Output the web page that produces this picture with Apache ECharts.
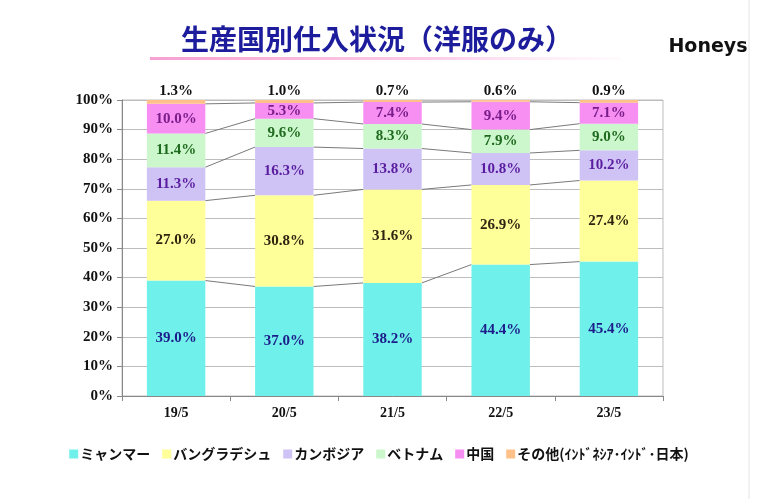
<!DOCTYPE html>
<html>
<head>
<meta charset="utf-8">
<script src="https://cdn.jsdelivr.net/npm/echarts@6/dist/echarts.min.js"></script>
<style>
html,body{margin:0;padding:0;background:#fff;}
#c{width:758px;height:499px;}
</style>
</head>
<body>
<div id="c"></div>
<script>
var categories = ['19/5', '20/5', '21/5', '22/5', '23/5'];
var myanmar    = [39.0, 37.0, 38.2, 44.4, 45.4];
var bangladesh = [27.0, 30.8, 31.6, 26.9, 27.4];
var cambodia   = [11.3, 16.3, 13.8, 10.8, 10.2];
var vietnam    = [11.4, 9.6, 8.3, 7.9, 9.0];
var china      = [10.0, 5.3, 7.4, 9.4, 7.1];
var others     = [1.3, 1.0, 0.7, 0.6, 0.9];
var seriesNames = ['ミャンマー', 'バングラデシュ', 'カンボジア', 'ベトナム', '中国', 'その他(ｲﾝﾄﾞﾈｼｱ･ｲﾝﾄﾞ･日本)'];
var yTicks = [0, 10, 20, 30, 40, 50, 60, 70, 80, 90, 100];

var colors = ['#6FF0EA', '#FFFF99', '#CFC3F5', '#CCF7CC', '#F78EF2', '#FFC08A'];
var labelColors = ['#1B1B8A', '#2E2410', '#5A1C9E', '#1E6A1E', '#7A1D8A', '#111111'];
var allData = [myanmar, bangladesh, cambodia, vietnam, china, others];
var BAR_RATIO = 0.54;

var chart = echarts.init(document.getElementById('c'));
var serif = '"Liberation Serif", "Times New Roman", serif';
var jp = '"Noto Sans CJK JP", sans-serif';

var series = allData.map(function (arr, k) {
  var last = k === allData.length - 1;
  return {
    name: seriesNames[k],
    type: 'bar',
    stack: 'total',
    barWidth: (BAR_RATIO * 100) + '%',
    data: arr,
    itemStyle: { color: colors[k] },
    label: {
      show: true,
      position: last ? 'top' : 'inside',
      distance: 1,
      formatter: function (p) { return p.value.toFixed(1) + '%'; },
      color: labelColors[k],
      fontFamily: serif,
      fontWeight: 'bold',
      fontSize: 15
    }
  };
});

// connector lines between cumulative boundaries
function cum(i, level) {
  var s = 0;
  for (var k = 0; k <= level; k++) s += allData[k][i];
  return s;
}
series.push({
  type: 'custom',
  name: 'connectors',
  silent: true,
  z: 1,
  data: categories.slice(0, categories.length - 1).map(function (c, i) { return [i]; }),
  renderItem: function (params, api) {
    var i = api.value(0);
    var band = api.size([1, 0])[0];
    var half = band * BAR_RATIO / 2;
    var children = [];
    for (var level = 0; level < 5; level++) {
      var p1 = api.coord([i, cum(i, level)]);
      var p2 = api.coord([i + 1, cum(i + 1, level)]);
      children.push({
        type: 'line',
        shape: { x1: p1[0] + half, y1: p1[1], x2: p2[0] - half, y2: p2[1] },
        style: { stroke: '#7a7a7a', lineWidth: 1 }
      });
    }
    return { type: 'group', children: children };
  }
});

chart.setOption({
  animation: false,
  backgroundColor: '#fff',
  graphic: [
    {
      type: 'rect',
      shape: { x: 150, y: 57, width: 470, height: 3 },
      style: {
        fill: new echarts.graphic.LinearGradient(0, 0, 1, 0, [
          { offset: 0, color: 'rgba(247,160,210,1)' },
          { offset: 0.6, color: 'rgba(250,190,225,0.8)' },
          { offset: 1, color: 'rgba(255,230,245,0.2)' }
        ])
      }
    },
    {
      type: 'line',
      shape: { x1: 749, y1: 0, x2: 749, y2: 499 },
      style: { stroke: '#e4e4e4', lineWidth: 1 }
    }
  ],
  title: [
    {
      text: '生産国別仕入状況（洋服のみ）',
      left: 372,
      top: 20,
      textAlign: 'center',
      textStyle: { fontFamily: jp, fontWeight: 'bold', fontSize: 28, color: '#1C1C9C' }
    },
    {
      text: 'Honeys',
      left: 703,
      top: 33,
      textAlign: 'center',
      textStyle: { fontFamily: '"DejaVu Sans", sans-serif', fontWeight: 'bold', fontSize: 19, color: '#111' }
    }
  ],
  legend: {
    bottom: 33,
    left: 'center',
    itemWidth: 9,
    itemHeight: 9,
    itemGap: 12,
    icon: 'rect',
    data: seriesNames,
    textStyle: { fontFamily: jp, fontWeight: 'bold', fontSize: 14, color: '#111', padding: [0, 0, 0, -3] }
  },
  grid: { left: 122, right: 95, top: 100, bottom: 103, show: true, borderColor: '#bdbdbd', borderWidth: 1 },
  xAxis: {
    type: 'category',
    data: categories,
    axisLine: { lineStyle: { color: '#888' } },
    axisTick: { show: true, lineStyle: { color: '#888' }, length: 5 },
    axisLabel: { fontFamily: serif, fontWeight: 'bold', fontSize: 14, color: '#111', margin: 10 }
  },
  yAxis: {
    type: 'value',
    min: yTicks[0],
    max: yTicks[yTicks.length - 1],
    interval: 10,
    axisLine: { show: true, lineStyle: { color: '#888' } },
    axisTick: { show: true, lineStyle: { color: '#888' }, length: 5 },
    splitLine: { lineStyle: { color: '#bdbdbd' } },
    axisLabel: { formatter: '{value}%', fontFamily: serif, fontWeight: 'bold', fontSize: 15, color: '#111', margin: 9 }
  },
  series: series
});
</script>
</body>
</html>
